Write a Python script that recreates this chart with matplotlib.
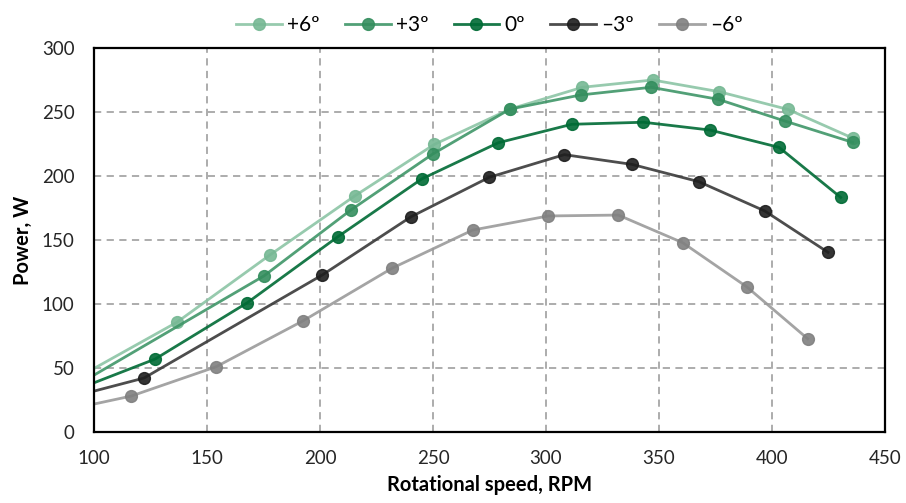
import matplotlib.pyplot as plt

plt.rcParams['font.family'] = ['Lato', 'DejaVu Sans']

# Rotational speed (RPM) and power (W) for each pitch angle
rpm_p6 = [100, 136.6, 177.8, 215.5, 250.6, 284.1, 316.1, 347.2, 376.5, 407.1, 436.0]
pow_p6 = [49.7, 85.7, 138.3, 184.6, 224.7, 252.3, 269.3, 275.0, 265.9, 252.0, 229.4]

rpm_p3 = [100, 175.2, 213.6, 249.9, 284.1, 315.3, 346.5, 376.2, 405.6, 435.7]
pow_p3 = [44.5, 122.0, 173.4, 217.2, 252.3, 263.3, 269.3, 259.9, 243.0, 226.3]

rpm_0 = [100, 127.0, 167.8, 207.9, 245.0, 278.9, 311.4, 343.1, 372.6, 403.1, 430.4]
pow_0 = [38.5, 57.0, 101.0, 152.6, 197.7, 226.0, 240.4, 242.0, 235.9, 222.4, 183.3]

rpm_m3 = [100, 122.1, 201.0, 240.3, 274.9, 308.1, 338.0, 367.6, 396.8, 424.8]
pow_m3 = [32.0, 42.2, 122.7, 168.2, 199.0, 216.7, 209.1, 195.6, 172.7, 140.4]

rpm_m6 = [100, 116.4, 154.0, 192.6, 231.9, 267.6, 301.0, 332.0, 360.5, 388.8, 415.8]
pow_m6 = [21.9, 28.1, 51.0, 87.0, 128.0, 157.8, 168.8, 169.5, 147.9, 113.5, 72.9]

series = [
    ('+6º', rpm_p6, pow_p6, '#8cc5a5', '#76b894'),
    ('+3º', rpm_p3, pow_p3, '#3f9668', '#348e5e'),
    ('0º', rpm_0, pow_0, '#006b35', '#006b35'),
    ('–3º', rpm_m3, pow_m3, '#3a3a3a', '#1e1e1e'),
    ('–6º', rpm_m6, pow_m6, '#9a9a9a', '#808080'),
]

fig = plt.figure(figsize=(9.06, 5.03), dpi=100)
ax = fig.add_axes([0.1038, 0.141, 0.873, 0.7636])

for label, x, y, lc, mc in series:
    ax.plot(x, y, color=lc, lw=2.0, marker='o', markersize=8.5,
            markerfacecolor=mc, markeredgecolor=mc, markevery=slice(1, None),
            label=label, alpha=0.9)

ax.set_xlim(100, 450)
ax.set_ylim(0, 300)
ax.set_xticks(range(100, 451, 50))
ax.set_yticks(range(0, 301, 50))
ax.grid(True, color='#a6a6a6', linestyle=(0, (4, 3)), linewidth=1.3)
ax.tick_params(length=0, labelsize=13.5, colors='#262626')
ax.tick_params(axis='x', pad=13)
ax.tick_params(axis='y', pad=14)
for s in ax.spines.values():
    s.set_color('black')
    s.set_linewidth(1.6)

ax.set_xlabel('Rotational speed, RPM', fontsize=14.5, fontweight='bold', labelpad=6)
ax.set_ylabel('Power, W', fontsize=14.5, fontweight='bold', labelpad=6)

ax.legend(loc='lower center', bbox_to_anchor=(0.5, 0.985), ncol=5, frameon=False,
          fontsize=15, handlelength=2.2, columnspacing=1.2, handletextpad=0.25)

fig.savefig('out.png', dpi=100)
